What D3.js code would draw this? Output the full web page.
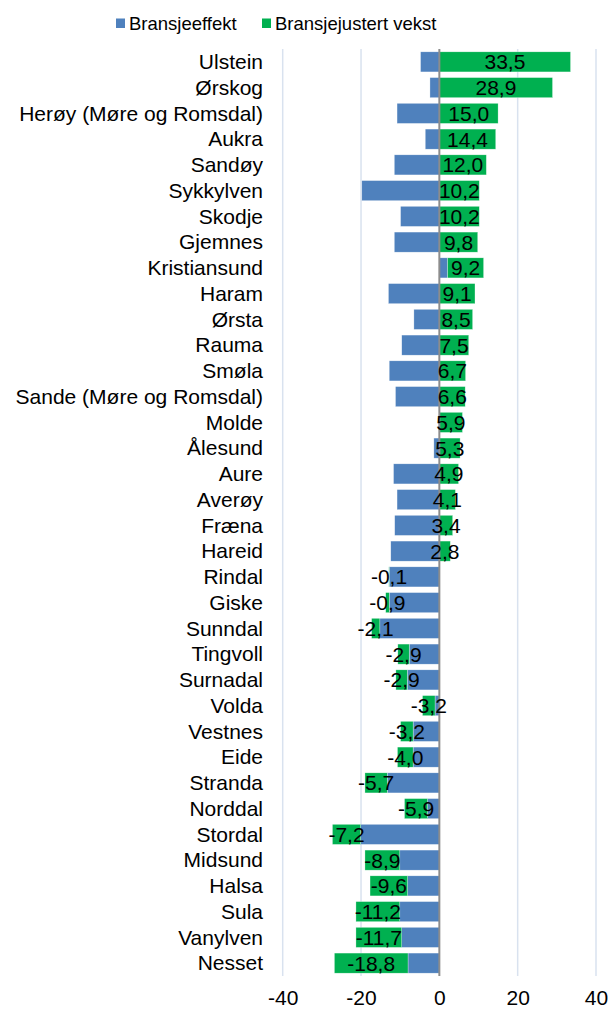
<!DOCTYPE html>
<html>
<head>
<meta charset="utf-8">
<script src="https://cdn.jsdelivr.net/npm/d3@7"></script>
<style>
  html, body { margin: 0; padding: 0; background: #fff; }
  svg { display: block; }
  text { font-family: "Liberation Sans", Arial, sans-serif; fill: #000; }
</style>
</head>
<body>
<svg id="chart" width="610" height="1009"></svg>
<script>
const categories = ["Ulstein","Ørskog","Herøy (Møre og Romsdal)","Aukra","Sandøy","Sykkylven","Skodje","Gjemnes","Kristiansund","Haram","Ørsta","Rauma","Smøla","Sande (Møre og Romsdal)","Molde","Ålesund","Aure","Averøy","Fræna","Hareid","Rindal","Giske","Sunndal","Tingvoll","Surnadal","Volda","Vestnes","Eide","Stranda","Norddal","Stordal","Midsund","Halsa","Sula","Vanylven","Nesset"];
const bransjeeffekt = [-4.8,-2.4,-10.8,-3.6,-11.5,-19.8,-9.9,-11.5,2.1,-13.0,-6.5,-9.6,-12.8,-11.2,0.0,-1.4,-11.7,-10.8,-11.4,-12.4,-12.8,-12.8,-15.2,-7.7,-8.2,-1.1,-6.7,-6.7,-13.3,-3.0,-20.1,-10.1,-8.1,-10.1,-9.6,-8.0];
const bransjejustertVekst = [33.5,28.9,15.0,14.4,12.0,10.2,10.2,9.8,9.2,9.1,8.5,7.5,6.7,6.6,5.9,5.3,4.9,4.1,3.4,2.8,-0.1,-0.9,-2.1,-2.9,-2.9,-3.2,-3.2,-4.0,-5.7,-5.9,-7.2,-8.9,-9.6,-11.2,-11.7,-18.8];
const seriesNames = ["Bransjeeffekt","Bransjejustert vekst"];
const xTicks = [-40,-20,0,20,40];

const colors = ["#4f81bd", "#00b050"];
const svg = d3.select("#chart");

const x = d3.scaleLinear().domain([-40, 40]).range([282.7, 596]);
const y = d3.scaleBand().domain(categories).range([49, 976]).paddingInner(0.22).paddingOuter(0.11);

const rows = categories.map((c, i) => ({cat: c, s0: bransjeeffekt[i], s1: bransjejustertVekst[i]}));
const stack = d3.stack().keys(["s0","s1"]).offset(d3.stackOffsetDiverging);
const stacked = stack(rows);

const fmt = v => v.toFixed(1).replace(".", ",");

// gridlines
svg.append("g").selectAll("line").data(xTicks.filter(t => t !== 0)).join("line")
  .attr("x1", d => x(d)).attr("x2", d => x(d))
  .attr("y1", 49).attr("y2", 976)
  .attr("stroke", "#d9e2ef").attr("stroke-width", 1.5);

// bars
svg.append("g").selectAll("g").data(stacked).join("g")
  .attr("fill", (d, i) => colors[i])
  .selectAll("rect").data(d => d).join("rect")
  .attr("x", d => x(Math.min(d[0], d[1])))
  .attr("width", d => Math.abs(x(d[1]) - x(d[0])))
  .attr("y", d => y(d.data.cat))
  .attr("height", y.bandwidth())
  .attr("stroke", "#fff").attr("stroke-width", 0.5).attr("stroke-opacity", 0.6);

// zero axis line
svg.append("line")
  .attr("x1", x(0)).attr("x2", x(0)).attr("y1", 49).attr("y2", 976)
  .attr("stroke", "#8c8c8c").attr("stroke-width", 2);

// data labels (green series)
svg.append("g").selectAll("text").data(stacked[1]).join("text")
  .attr("x", d => (x(d[0]) + x(d[1])) / 2)
  .attr("y", d => y(d.data.cat) + y.bandwidth() / 2 + 7.5)
  .attr("text-anchor", "middle")
  .style("font-size", "21px")
  .text(d => fmt(d.data.s1));

// category labels
const yAxis = d3.axisLeft(y).tickSize(0).tickPadding(0);
const ya = svg.append("g").attr("transform", "translate(263,0)").call(yAxis);
ya.select(".domain").remove();
ya.selectAll("text").style("font-size", "21px").style("font-family", "Liberation Sans, Arial, sans-serif").attr("fill", "#000").attr("dy", "0.35em");

// x tick labels
const xAxis = d3.axisBottom(x).tickValues(xTicks).tickSize(0).tickPadding(0).tickFormat(d => (d < 0 ? "-" : "") + Math.abs(d));
const xa = svg.append("g").attr("transform", "translate(0,990)").call(xAxis);
xa.select(".domain").remove();
xa.selectAll("text").style("font-size", "21px").style("font-family", "Liberation Sans, Arial, sans-serif").attr("fill", "#000").attr("dy", "0.72em");

// legend
const legendX = [116, 262];
const lg = svg.append("g").selectAll("g").data(seriesNames).join("g")
  .attr("transform", (d, i) => `translate(${legendX[i]},0)`);
lg.append("rect").attr("x", 0).attr("y", 18.5).attr("width", 9).attr("height", 9.5)
  .attr("fill", (d, i) => colors[i]);
lg.append("text").attr("x", 13).attr("y", 30).style("font-size", "18.5px").text(d => d);
</script>
</body>
</html>
